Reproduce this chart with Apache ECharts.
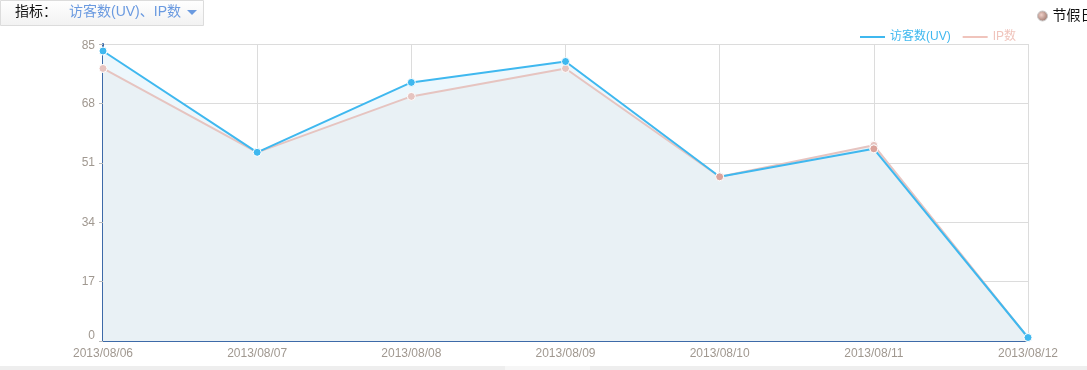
<!DOCTYPE html>
<html><head><meta charset="utf-8">
<script src="https://cdn.jsdelivr.net/npm/echarts@6/dist/echarts.min.js"></script>
<style>html,body{margin:0;padding:0;background:#fff;}#c{width:1087px;height:370px;}</style>
</head><body><div id="c"></div>
<script>
var categories = ['2013/08/06','2013/08/07','2013/08/08','2013/08/09','2013/08/10','2013/08/11','2013/08/12'];
var uvValues = [83, 54, 74, 80, 47, 55, 1];
var ipValues = [78, 54, 70, 78, 47, 56, 1];
var holidayValues = [null, null, null, null, 47, 55, null];
var yTicks = [0, 17, 34, 51, 68, 85];

var chart = echarts.init(document.getElementById('c'), null, {renderer: 'canvas'});
var font = 'Arial, "Liberation Sans", "Noto Sans CJK SC", sans-serif';
chart.setOption({
  animation: false,
  textStyle: {fontFamily: font},
  grid: {left: 103, right: 59, top: 44, bottom: 29},
  legend: [{
    data: [
      {name: '访客数(UV)', textStyle: {color: '#3fb8ef'}, itemStyle: {color: '#3fb8ef', borderWidth: 0}},
      {name: 'IP数', textStyle: {color: '#f0c4bc'}, itemStyle: {color: '#f0c4bc', borderWidth: 0}}
    ],
    right: 66, top: 26, itemWidth: 25, itemHeight: 2, itemGap: 12,
    icon: 'rect',
    textStyle: {fontSize: 12, fontFamily: font}
  }, {
    data: [{name: '节假日', itemStyle: {color: new echarts.graphic.RadialGradient(0.4, 0.4, 0.6, [{offset: 0, color: '#f0d0c8'}, {offset: 1, color: '#a07a70'}]), borderColor: '#c8c8c8', borderWidth: 1}}],
    left: 1032, top: 4, itemWidth: 10, itemHeight: 10, icon: 'circle',
    textStyle: {fontSize: 14, color: '#111', fontFamily: font}
  }],
  xAxis: {
    type: 'category', data: categories, boundaryGap: false,
    axisLine: {lineStyle: {color: '#3d6aa8', width: 2}},
    axisTick: {show: false},
    axisLabel: {color: '#a09890', fontSize: 12, margin: 7, showMinLabel: true, showMaxLabel: true, interval: 0},
    splitLine: {show: true, lineStyle: {color: '#dcdcdc', width: 1}}
  },
  yAxis: {
    type: 'value', min: 0, max: 85, interval: 17,
    axisLine: {show: true, lineStyle: {color: '#3d6aa8', width: 2}},
    axisTick: {show: true, length: 4, lineStyle: {color: '#bbb'}},
    axisLabel: {color: '#a09890', fontSize: 12, margin: 8,
      formatter: function (v) {
        if (yTicks.indexOf(v) < 0) return '';
        if (v === 85) return '{top|' + v + '}';
        if (v === 0) return '{bot|' + v + '}';
        return String(v);
      },
      rich: {
        top: {padding: [4, 0, 0, 0], color: '#a09890', fontSize: 12},
        bot: {padding: [0, 0, 11, 0], color: '#a09890', fontSize: 12}
      }},
    splitLine: {show: true, lineStyle: {color: '#dcdcdc', width: 1}}
  },
  series: [
    {name: 'uvArea', type: 'line', data: uvValues, symbol: 'none', lineStyle: {width: 0},
      areaStyle: {color: '#edf7fc', opacity: 1}, z: 1, silent: true},
    {name: 'ipArea', type: 'line', data: ipValues, symbol: 'none', lineStyle: {width: 0},
      areaStyle: {color: '#e9f1f5', opacity: 1}, z: 1, silent: true},
    {name: 'IP数', type: 'line', data: ipValues, symbol: 'circle', symbolSize: 8,
      itemStyle: {color: '#e6c4c0', borderColor: '#fff', borderWidth: 1},
      lineStyle: {color: '#e6c4c0', width: 2}, z: 3},
    {name: '访客数(UV)', type: 'line', data: uvValues, symbol: 'circle', symbolSize: 8,
      itemStyle: {color: '#3fb8ef', borderColor: '#fff', borderWidth: 1},
      lineStyle: {color: '#3fb8ef', width: 2}, z: 4},
    {name: '节假日', type: 'scatter', data: holidayValues, symbol: 'circle', symbolSize: 8,
      itemStyle: {color: '#dba39b', borderColor: '#fff', borderWidth: 1, opacity: 1}, z: 5}
  ],
  graphic: [
    {type: 'rect', left: 0, top: 0, shape: {width: 203, height: 25},
      style: {fill: new echarts.graphic.LinearGradient(0, 0, 0, 1, [{offset: 0, color: '#ffffff'}, {offset: 1, color: '#f2f2f2'}]), stroke: '#dcdcdc', lineWidth: 1}},
    {type: 'text', left: 15, top: 5, style: {text: '指标：', fill: '#111', font: '14px ' + font}},
    {type: 'text', left: 69, top: 5, style: {text: '访客数(UV)、IP数', fill: '#6a9ae0', font: '14px ' + font}},
    {type: 'polygon', shape: {points: [[187, 10], [197, 10], [192, 15]]}, style: {fill: '#6a9ae0'}},
    {type: 'rect', left: 0, top: 366, shape: {width: 1087, height: 4}, style: {fill: '#eeeeee'}},
    {type: 'rect', left: 505, top: 366, shape: {width: 85, height: 4}, style: {fill: '#f6f6f6'}}
  ]
});
</script></body></html>
